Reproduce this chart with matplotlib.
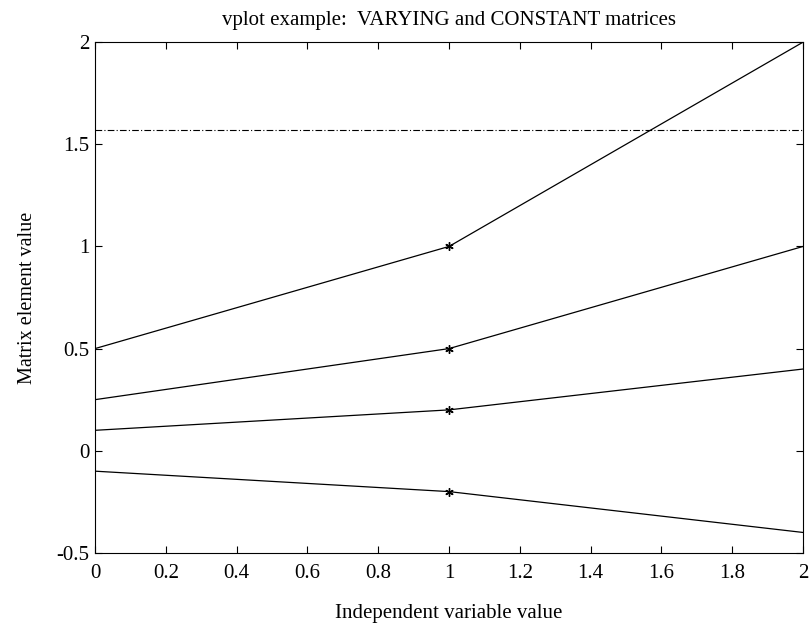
import matplotlib
matplotlib.use("Agg")
import matplotlib.pyplot as plt
import numpy as np

# Data: VARYING matrix elements sampled at three independent values
x_vals = [0, 1, 2]
series = [
    [0.5, 1.0, 2.0],
    [0.25, 0.5, 1.0],
    [0.1, 0.2, 0.4],
    [-0.1, -0.2, -0.4],
]
# CONSTANT matrix value
const_val = np.pi / 2

x_ticks = [0, 0.2, 0.4, 0.6, 0.8, 1, 1.2, 1.4, 1.6, 1.8, 2]
x_tick_labels = ["0", "0.2", "0.4", "0.6", "0.8", "1", "1.2", "1.4", "1.6", "1.8", "2"]
y_ticks = [-0.5, 0, 0.5, 1, 1.5, 2]
y_tick_labels = ["-0.5", "0", "0.5", "1", "1.5", "2"]

plt.rcParams['font.family'] = ['Liberation Serif', 'DejaVu Serif']

fig = plt.figure(figsize=(8.12, 6.29), dpi=100)
ax = fig.add_axes([0.117, 0.121, 0.872, 0.812])

for ys in series:
    ax.plot(x_vals, ys, color='black', linewidth=0.9)
    # asterisk marker at the middle sample
    ax.plot([x_vals[1]], [ys[1]], marker=(6, 2, 0), color='black',
            markersize=6, markeredgewidth=1.0, linestyle='none')

ax.axhline(const_val, color='black', linewidth=0.8, linestyle='-.',
           dashes=(6, 2, 1, 2))

ax.set_xlim(0, 2)
ax.set_ylim(-0.5, 2)
ax.set_xticks(x_ticks)
ax.set_xticklabels(x_tick_labels)
ax.set_yticks(y_ticks)
ax.set_yticklabels(y_tick_labels)
ax.tick_params(direction='in', top=True, right=True, labelsize=15,
               length=5, width=0.8)
ax.tick_params(axis='x', pad=8)
ax.tick_params(axis='y', pad=4)
for sp in ax.spines.values():
    sp.set_linewidth(0.8)

ax.set_title("vplot example:  VARYING and CONSTANT matrices", fontsize=15, pad=12)
ax.set_xlabel("Independent variable value", fontsize=15, labelpad=15)
ax.set_ylabel("Matrix element value", fontsize=14.5, labelpad=14)

fig.savefig("out.png", dpi=100)
